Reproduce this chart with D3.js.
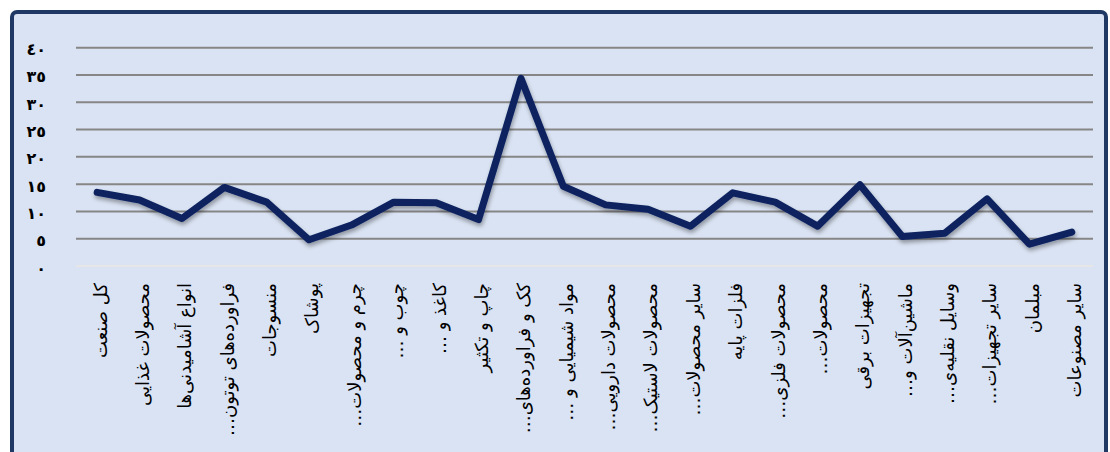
<!DOCTYPE html>
<html>
<head>
<meta charset="utf-8">
<script src="https://cdn.jsdelivr.net/npm/d3@7"></script>
<style>
    body { margin: 0; background: #ffffff; }
    svg { display: block; }
</style>
</head>
<body>
<div class="canvas"></div>
<script>
//chart data
const categories = [
    'کل صنعت',
    'محصولات غذایی',
    'انواع آشامیدنی‌ها',
    'فراورده‌های توتون…',
    'منسوجات',
    'پوشاک',
    'چرم و محصولات…',
    'چوب و …',
    'کاغذ و …',
    'چاپ و تکثیر',
    'کک و فراورده‌های…',
    'مواد شیمیایی و …',
    'محصولات دارویی…',
    'محصولات لاستیک…',
    'سایر محصولات…',
    'فلزات پایه',
    'محصولات فلزی…',
    'محصولات…',
    'تجهیزات برقی',
    'ماشین‌آلات و…',
    'وسایل نقلیه‌ی…',
    'سایر تجهیزات…',
    'مبلمان',
    'سایر مصنوعات'
];

const values = [13.5, 12.1, 8.7, 14.4, 11.7, 4.8, 7.5, 11.7, 11.6, 8.5, 34.4, 14.6,
    11.2, 10.4, 7.3, 13.4, 11.7, 7.3, 14.9, 5.4, 6.0, 12.3, 4.0, 6.2];

const yTicks = [0, 5, 10, 15, 20, 25, 30, 35, 40];

//chart dimensions
const dims = {
    width: 1110,
    height: 452
};

const plot = { left: 76, right: 1093, top: 47.7, bottom: 266 };

//arabic-indic digits for tick labels
const toArabicDigits = n => String(n).replace(/\d/g, d => '٠١٢٣٤٥٦٧٨٩'[d]);

//create svg container
const svg = d3.select('.canvas')
    .append('svg')
    .attr('width', dims.width)
    .attr('height', dims.height);

//drop shadow for the line
const defs = svg.append('defs');
defs.append('filter')
    .attr('id', 'shadow')
    .attr('x', '-5%').attr('y', '-20%')
    .attr('width', '110%').attr('height', '140%')
    .append('feDropShadow')
        .attr('dx', 1)
        .attr('dy', 3)
        .attr('stdDeviation', 2)
        .attr('flood-color', '#000')
        .attr('flood-opacity', 0.35);

//background panel with border
svg.append('rect')
    .attr('x', 12)
    .attr('y', 12)
    .attr('width', 1094)
    .attr('height', 460)
    .attr('rx', 5)
    .attr('fill', '#dae3f3')
    .attr('stroke', '#1f3864')
    .attr('stroke-width', 4);

//scales
const x = d3.scalePoint()
    .domain(categories)
    .range([plot.left, plot.right])
    .padding(0.5);

const y = d3.scaleLinear()
    .domain([0, 40])
    .range([plot.bottom, plot.top]);

//gridlines
svg.append('g')
    .selectAll('line')
    .data(yTicks)
    .enter()
    .append('line')
        .attr('x1', plot.left)
        .attr('x2', plot.right)
        .attr('y1', d => y(d))
        .attr('y2', d => y(d))
        .attr('stroke', d => d === 0 ? '#e6e6e6' : '#868686')
        .attr('stroke-width', 2);

//y axis labels
svg.append('g')
    .selectAll('text')
    .data(yTicks)
    .enter()
    .append('text')
        .attr('x', 46)
        .attr('y', d => y(d) + 3)
        .attr('text-anchor', 'end')
        .attr('dominant-baseline', 'middle')
        .attr('font-family', 'DejaVu Sans')
        .attr('font-size', 16)
        .attr('font-weight', 'bold')
        .attr('fill', '#000')
        .text(d => toArabicDigits(d));

//x axis labels, rotated
svg.append('g')
    .selectAll('text')
    .data(categories)
    .enter()
    .append('text')
        .attr('transform', d => `translate(${x(d) + 3}, 283) rotate(-90)`)
        .attr('direction', 'rtl')
        .attr('text-anchor', 'start')
        .attr('dy', '0.35em')
        .attr('font-family', 'DejaVu Sans')
        .attr('font-size', 18)
        .attr('fill', '#000')
        .text(d => d);

//line
const line = d3.line()
    .x((d, i) => x(categories[i]))
    .y(d => y(d));

svg.append('path')
    .datum(values)
    .attr('d', line)
    .attr('fill', 'none')
    .attr('stroke', '#0a215f')
    .attr('stroke-width', 7)
    .attr('stroke-linejoin', 'round')
    .attr('stroke-linecap', 'round')
    .attr('filter', 'url(#shadow)');
</script>
</body>
</html>
